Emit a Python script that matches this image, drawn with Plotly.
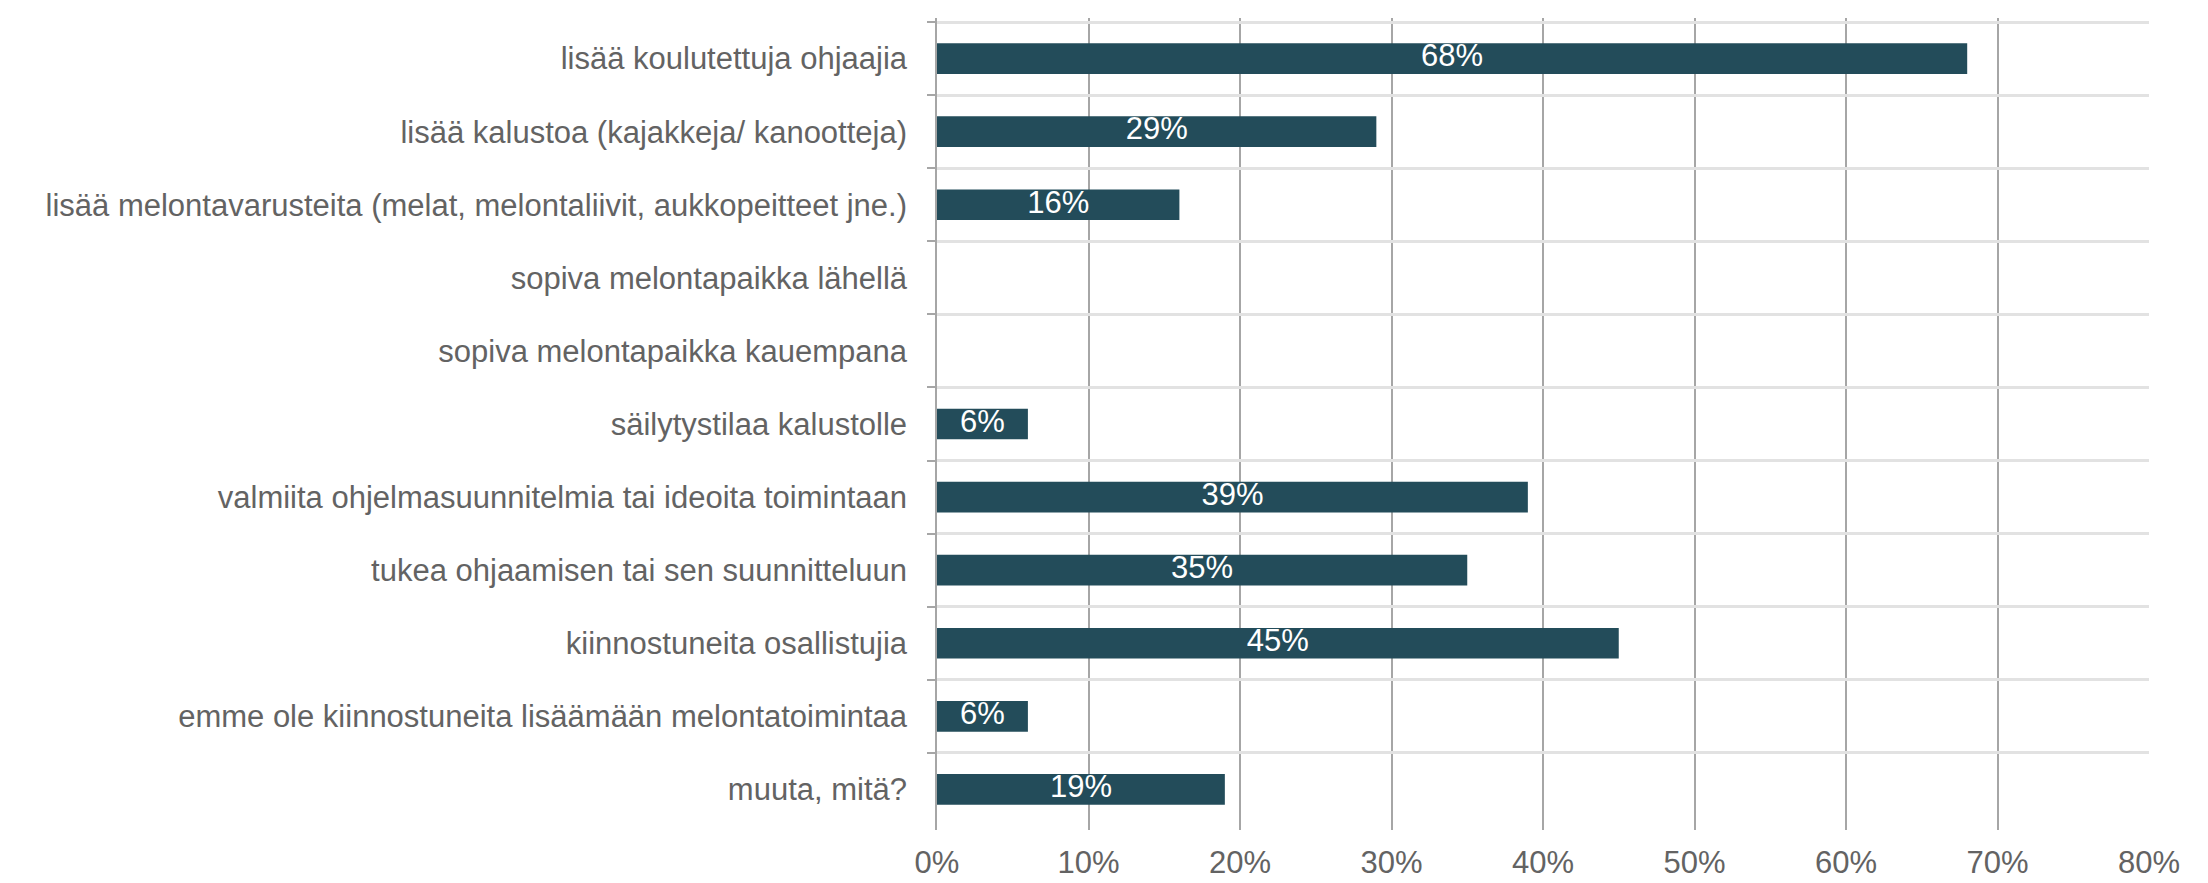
import plotly.graph_objects as go

categories = [
    "lisää koulutettuja ohjaajia",
    "lisää kalustoa (kajakkeja/ kanootteja)",
    "lisää melontavarusteita (melat, melontaliivit, aukkopeitteet jne.)",
    "sopiva melontapaikka lähellä",
    "sopiva melontapaikka kauempana",
    "säilytystilaa kalustolle",
    "valmiita ohjelmasuunnitelmia tai ideoita toimintaan",
    "tukea ohjaamisen tai sen suunnitteluun",
    "kiinnostuneita osallistujia",
    "emme ole kiinnostuneita lisäämään melontatoimintaa",
    "muuta, mitä?",
]
values = [68, 29, 16, 0, 0, 6, 39, 35, 45, 6, 19]
tick_vals = [0, 10, 20, 30, 40, 50, 60, 70, 80]
tick_text = ["0%", "10%", "20%", "30%", "40%", "50%", "60%", "70%", "80%"]

labels = [f"{v}%" if v > 0 else "" for v in values]

fig = go.Figure()
fig.add_trace(go.Bar(
    x=values, y=categories, orientation="h",
    marker=dict(color="#234c5a", line=dict(width=0)),
    width=0.42, hoverinfo="x+y",
))
fig.add_trace(go.Scatter(
    x=[v / 2 for v in values], y=categories, mode="text",
    text=labels, textposition="middle center",
    textfont=dict(color="white", size=31, family="Liberation Sans, Arial"),
    hoverinfo="skip", cliponaxis=False,
))

fig.update_layout(
    width=2200, height=875,
    margin=dict(l=929, r=59, t=10, b=53),
    plot_bgcolor="white", paper_bgcolor="white",
    font=dict(family="Liberation Sans, Arial", size=31, color="#636363"),
    showlegend=False,
)
fig.update_xaxes(
    range=[0, 80], tickvals=tick_vals, ticktext=tick_text,
    showgrid=True, gridcolor="#a6a6a6", gridwidth=1.5,
    zeroline=False, showline=False, ticks="", ticklen=0,
    ticklabelstandoff=11, automargin=False,
    tickfont=dict(size=31, color="#636363"),
)
fig.update_yaxes(
    autorange="reversed", tickson="boundaries",
    showgrid=True, gridcolor="#e2e2e2", gridwidth=2.5,
    showline=True, linecolor="#a6a6a6", linewidth=1.5,
    ticks="outside", ticklen=8, tickcolor="#a6a6a6", tickwidth=1.5,
    ticklabelstandoff=22, automargin=False,
    tickfont=dict(size=31, color="#636363"),
)

fig.write_html("out.html")
